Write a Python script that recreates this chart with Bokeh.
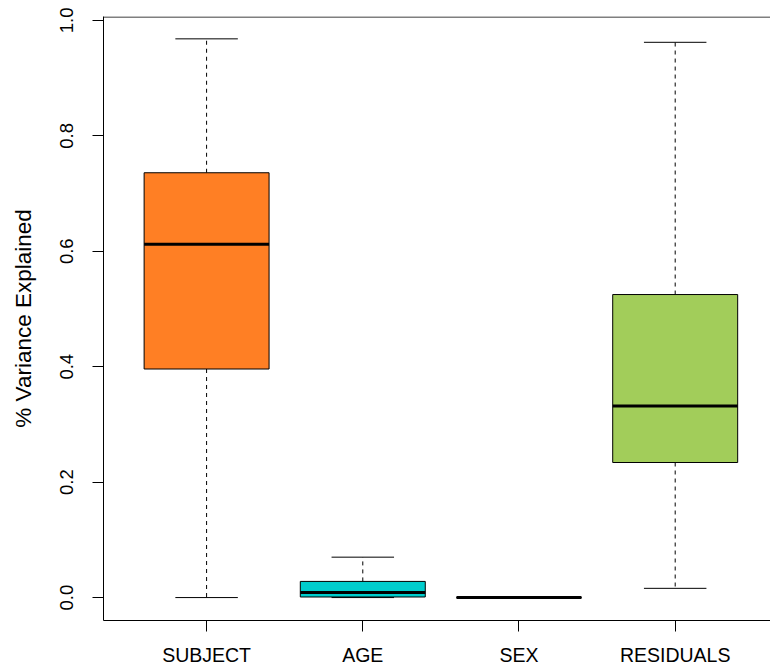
import numpy as np
from bokeh.plotting import figure
from bokeh.models import Range1d, FixedTicker, Span, ColumnDataSource
from bokeh.embed import file_html
from bokeh.resources import INLINE

# ---- data ----
categories = ["SUBJECT", "AGE", "SEX", "RESIDUALS"]
lower_whisker = [0.000, 0.000, 0.000, 0.016]
q1 = [0.396, 0.001, 0.000, 0.234]
median = [0.612, 0.009, 0.000, 0.332]
q3 = [0.736, 0.028, 0.000, 0.525]
upper_whisker = [0.968, 0.070, 0.000, 0.962]
box_colors = ["#FF7F24", "#00CDCD", "#9F79EE", "#A2CD5A"]
y_ticks = [0.0, 0.2, 0.4, 0.6, 0.8, 1.0]
y_tick_labels = ["0.0", "0.2", "0.4", "0.6", "0.8", "1.0"]
y_title = "% Variance Explained"

# ---- layout/style ----
FONT = "Liberation Sans"
pos = np.arange(1, len(categories) + 1, dtype=float)
box_half = 0.4
cap_half = 0.2

data_min = min(lower_whisker)
data_max = max(upper_whisker)
pad = 0.04 * (data_max - data_min)
y_start = data_min - pad - 0.001
y_end = data_max + pad

FIG_W, FIG_H = 770, 669
LEFT, TOP, BOTTOM = 103, 16, 49
frame_h = FIG_H - TOP - BOTTOM
units_per_px = (y_end - y_start) / frame_h
px_per_cat = 156.2
x_start = 0.34
x_end = x_start + (FIG_W - LEFT) / px_per_cat

p = figure(width=FIG_W, height=FIG_H, output_backend="svg", toolbar_location=None,
           x_range=Range1d(x_start, x_end),
           y_range=Range1d(y_start, y_end),
           min_border_left=LEFT, min_border_right=0, min_border_top=TOP,
           min_border_bottom=BOTTOM)
p.xgrid.visible = False
p.ygrid.visible = False
p.outline_line_color = None
p.background_fill_color = "white"
p.border_fill_color = "white"

src = ColumnDataSource(dict(
    x=pos, left=pos - box_half, right=pos + box_half,
    cl=pos - cap_half, cr=pos + cap_half,
    lo=lower_whisker, q1=q1, med=median, q3=q3, up=upper_whisker,
    color=box_colors))

# whiskers
p.segment(x0="x", y0="q3", x1="x", y1="up", source=src, line_color="black",
          line_width=1, line_dash="4 4")
p.segment(x0="x", y0="q1", x1="x", y1="lo", source=src, line_color="black",
          line_width=1, line_dash="4 4")
# caps
p.segment(x0="cl", y0="up", x1="cr", y1="up", source=src, line_color="black", line_width=1)
p.segment(x0="cl", y0="lo", x1="cr", y1="lo", source=src, line_color="black", line_width=1)
# boxes
p.quad(left="left", right="right", bottom="q1", top="q3", source=src,
       fill_color="color", line_color="black", line_width=1)
# medians
p.segment(x0="left", y0="med", x1="right", y1="med", source=src,
          line_color="black", line_width=3, line_cap="butt")

# top frame line (no right edge in the reference)
p.add_layout(Span(location=y_end - 0.5 * units_per_px, dimension="width",
                  line_color="black", line_width=1))

# x axis
xa = p.xaxis[0]
xa.ticker = FixedTicker(ticks=list(pos))
xa.major_label_overrides = {float(v): c for v, c in zip(pos, categories)}
xa.major_tick_out = 11
xa.major_tick_in = 0
xa.minor_tick_line_color = None
xa.axis_line_color = "black"
xa.major_tick_line_color = "black"
xa.major_label_text_font = FONT
xa.major_label_text_font_size = "19.5px"
xa.major_label_text_color = "black"
xa.major_label_standoff = 12

# y axis
ya = p.yaxis[0]
ya.ticker = FixedTicker(ticks=y_ticks)
ya.major_label_overrides = {t: l for t, l in zip(y_ticks, y_tick_labels)}
ya.major_label_orientation = "parallel"
ya.major_tick_out = 11
ya.major_tick_in = 0
ya.minor_tick_line_color = None
ya.axis_line_color = "black"
ya.major_tick_line_color = "black"
ya.major_label_text_font = FONT
ya.major_label_text_font_size = "18.5px"
ya.major_label_text_color = "black"
ya.major_label_standoff = 19
ya.axis_label = y_title
ya.axis_label_text_font = FONT
ya.axis_label_text_font_size = "22.5px"
ya.axis_label_text_font_style = "normal"
ya.axis_label_text_color = "black"
ya.axis_label_standoff = 22

open("out.html", "w").write(file_html(p, INLINE))
